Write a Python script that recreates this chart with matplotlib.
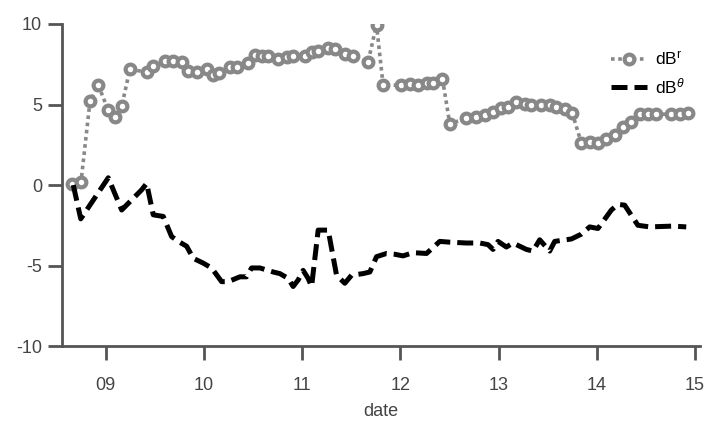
import numpy as np
import matplotlib.pyplot as plt

# day-of-month (decimal) and values
r_date = [8.660, 8.749, 8.840, 8.925, 9.026, 9.095, 9.163, 9.247, 9.417, 9.484,
          9.603, 9.682, 9.773, 9.840, 9.926, 10.027, 10.095, 10.156, 10.265, 10.333,
          10.445, 10.519, 10.587, 10.654, 10.756, 10.841, 10.908, 11.027, 11.096, 11.163,
          11.265, 11.333, 11.434, 11.519, 11.671, 11.757, 11.824, 12.011, 12.096, 12.180,
          12.266, 12.333, 12.428, 12.503, 12.672, 12.774, 12.859, 12.943, 13.029, 13.096,
          13.181, 13.266, 13.334, 13.435, 13.520, 13.588, 13.672, 13.751, 13.842, 13.927,
          14.011, 14.097, 14.181, 14.266, 14.351, 14.436, 14.520, 14.605, 14.758, 14.846,
          14.927]
dB_r = [0.05, 0.2, 5.2, 6.2, 4.65, 4.25, 4.9, 7.2, 7.0, 7.4,
        7.7, 7.7, 7.65, 7.1, 7.05, 7.2, 6.85, 6.95, 7.3, 7.3,
        7.6, 8.05, 8.0, 8.0, 7.85, 7.95, 8.0, 8.0, 8.25, 8.3,
        8.5, 8.45, 8.15, 8.0, 7.65, 9.95, 6.2, 6.2, 6.3, 6.2,
        6.35, 6.35, 6.6, 3.8, 4.15, 4.25, 4.35, 4.55, 4.8, 4.85,
        5.15, 5.05, 4.95, 4.95, 5.0, 4.85, 4.7, 4.45, 2.6, 2.65,
        2.6, 2.85, 3.1, 3.6, 3.9, 4.4, 4.4, 4.4, 4.4, 4.4,
        4.45]

t_date = [8.670, 8.746, 9.026, 9.163, 9.366, 9.417, 9.484, 9.586, 9.671, 9.739,
          9.824, 9.891, 9.993, 10.078, 10.180, 10.247, 10.366, 10.434, 10.485, 10.570,
          10.705, 10.773, 10.858, 10.908, 10.959, 11.010, 11.061, 11.096, 11.163, 11.265,
          11.350, 11.434, 11.503, 11.621, 11.689, 11.757, 11.859, 11.943, 12.027, 12.129,
          12.266, 12.401, 12.503, 12.672, 12.808, 12.892, 12.943, 12.994, 13.079, 13.146,
          13.283, 13.350, 13.418, 13.520, 13.571, 13.741, 13.842, 13.927, 14.011, 14.148,
          14.215, 14.283, 14.418, 14.537, 14.774, 14.910]
dB_theta = [0.0, -2.1, 0.45, -1.55, -0.3, 0.1, -1.85, -1.95, -3.2, -3.5,
            -3.8, -4.55, -4.85, -5.15, -6.0, -6.0, -5.7, -5.7, -5.15, -5.15,
            -5.4, -5.5, -5.8, -6.3, -5.9, -5.3, -5.8, -6.3, -2.8, -2.8,
            -5.6, -6.1, -5.6, -5.5, -5.4, -4.45, -4.25, -4.3, -4.4, -4.2,
            -4.25, -3.5, -3.55, -3.6, -3.6, -3.7, -4.0, -3.5, -3.85, -3.6,
            -4.0, -4.1, -3.4, -4.1, -3.5, -3.35, -3.05, -2.6, -2.7, -1.55,
            -1.2, -1.25, -2.5, -2.6, -2.55, -2.6]

xticks = [9, 10, 11, 12, 13, 14, 15]
xticklabels = ["09", "10", "11", "12", "13", "14", "15"]
yticks = [-10, -5, 0, 5, 10]

plt.rcParams["font.family"] = ["Liberation Sans", "DejaVu Sans"]
plt.rcParams["mathtext.fontset"] = "custom"
plt.rcParams["mathtext.rm"] = "Liberation Sans"
plt.rcParams["mathtext.it"] = "Liberation Sans:italic"
plt.rcParams["axes.unicode_minus"] = False

fig = plt.figure(figsize=(7.09, 4.21), dpi=100)
ax = fig.add_axes([0.087, 0.178, 0.901, 0.765])

ax.plot(r_date, dB_r, linestyle=(0, (1, 1)), color="#888888", linewidth=2.6,
        marker="o", markersize=7, markerfacecolor="white",
        markeredgecolor="#888888", markeredgewidth=3, label="dB$^\\mathrm{r}$")
ax.plot(t_date, dB_theta, linestyle=(0, (3.2, 1.4)), color="black",
        linewidth=3.6, label="dB$^\\theta$")

ax.set_xlim(8.552, 15.055)
ax.set_ylim(-10, 10)
ax.set_xticks(xticks)
ax.set_xticklabels(xticklabels)
ax.set_yticks(yticks)
ax.set_xlabel("date", fontsize=13, color="#444444", labelpad=7)

for side in ["top", "right"]:
    ax.spines[side].set_visible(False)
for side in ["left", "bottom"]:
    ax.spines[side].set_color("#555555")
    ax.spines[side].set_linewidth(2)
ax.tick_params(axis="both", length=10, width=2, color="#555555",
               labelsize=13, labelcolor="#444444")
ax.tick_params(axis="x", pad=12)
ax.tick_params(axis="y", pad=4)

leg = ax.legend(loc="upper right", bbox_to_anchor=(1.0, 0.965), frameon=False,
                fontsize=12.5, handlelength=2.1, handletextpad=0.45,
                labelspacing=0.45)

fig.savefig("out.png", dpi=100)
